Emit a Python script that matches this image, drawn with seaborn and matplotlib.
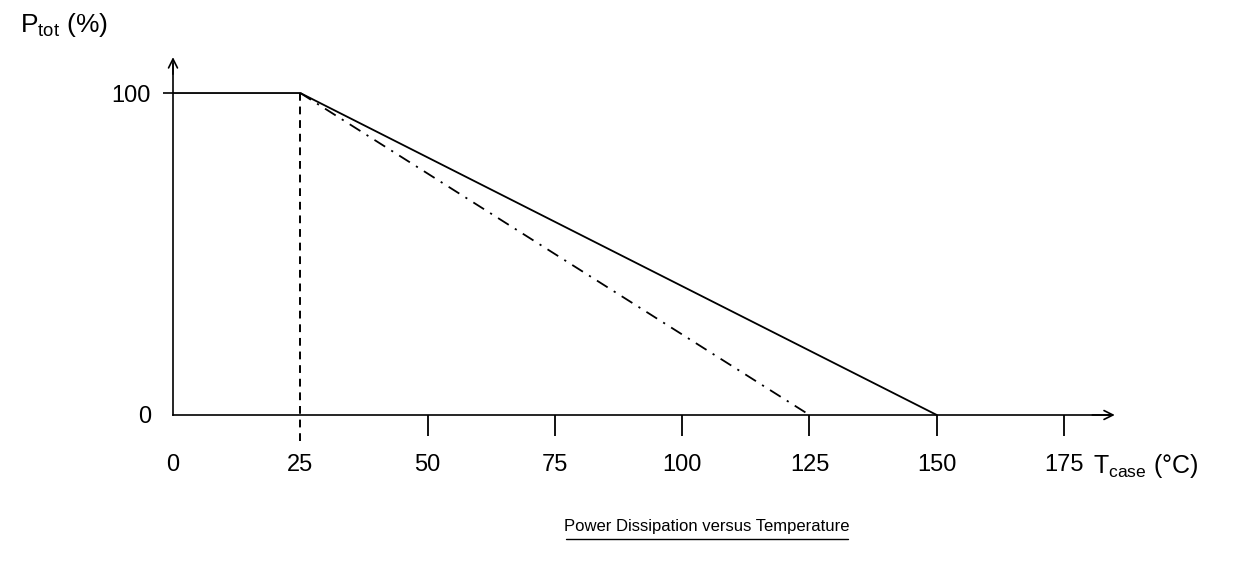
import numpy as np
import pandas as pd
import matplotlib
matplotlib.use("Agg")
import matplotlib.pyplot as plt
import seaborn as sns

# derating curves (T_case in degC, P_tot in %)
solid_t = [0, 25, 150]
solid_p = [100, 100, 0]
dashdot_t = [25, 125]
dashdot_p = [100, 0]
knee_t = 25

x_ticks = [0, 25, 50, 75, 100, 125, 150, 175]
y_ticks = [0, 100]

sns.set_style("white")
plt.rcParams['font.family'] = ['Liberation Sans', 'DejaVu Sans']
plt.rcParams['mathtext.fontset'] = 'custom'
plt.rcParams['mathtext.rm'] = 'Liberation Sans'
plt.rcParams['mathtext.it'] = 'Liberation Sans'
plt.rcParams['text.color'] = 'black'
plt.rcParams['xtick.color'] = 'black'
plt.rcParams['ytick.color'] = 'black'

fig = plt.figure(figsize=(12.55, 5.62), dpi=100)
ax = fig.add_axes([173 / 1255, 0.2043, 942 / 1255, 0.6932])

df_solid = pd.DataFrame({'t': solid_t, 'p': solid_p})
df_dd = pd.DataFrame({'t': dashdot_t, 'p': dashdot_p})
sns.lineplot(data=df_solid, x='t', y='p', color='black', lw=1.3, ax=ax,
             sort=False, estimator=None)
sns.lineplot(data=df_dd, x='t', y='p', color='black', lw=1.3, ax=ax,
             sort=False, estimator=None, linestyle=(0, (7, 4, 1.2, 4)))
ax.plot([knee_t, knee_t], [-8, 100], color='black', lw=1.4, ls=(0, (4, 3)))

ax.set_xlim(0, 185)
ax.set_ylim(-10, 111)

for s in ['top', 'right']:
    ax.spines[s].set_visible(False)
ax.spines['bottom'].set_position(('data', 0))
ax.spines['bottom'].set_bounds(0, 184)
ax.spines['left'].set_bounds(0, 109)
for s in ['bottom', 'left']:
    ax.spines[s].set_linewidth(1.2)
    ax.spines[s].set_color('black')

ax.annotate('', xy=(185.5, 0), xytext=(180, 0), annotation_clip=False,
            arrowprops=dict(arrowstyle='->', color='black', lw=1.2, mutation_scale=16))
ax.annotate('', xy=(0, 112), xytext=(0, 105), annotation_clip=False,
            arrowprops=dict(arrowstyle='->', color='black', lw=1.2, mutation_scale=16))

ax.set_xticks(x_ticks)
ax.set_xticklabels([str(t) for t in x_ticks])
ax.set_yticks(y_ticks)
ax.set_yticklabels([str(t) for t in y_ticks])
ax.tick_params(axis='x', bottom=True, length=15, width=1.3, direction='out',
               pad=13, labelsize=17)
ax.tick_params(axis='y', left=True, length=7, width=1.2, direction='out',
               pad=9, labelsize=17)
# no tick mark at the origin or at the 25 degC knee (dashed line does it)
for i, t in enumerate(ax.xaxis.get_major_ticks()):
    if x_ticks[i] in (0, 25):
        t.tick1line.set_visible(False)
ax.yaxis.get_major_ticks()[0].tick1line.set_visible(False)
ax.set_xlabel('')
ax.set_ylabel('')

fig.text(20 / 1255, 1 - 25 / 562, r'P$_{\mathrm{tot}}$ (%)', fontsize=19, va='center', ha='left')
fig.text(1093 / 1255, 1 - 466 / 562, r'T$_{\mathrm{case}}$ (°C)', fontsize=18, va='center', ha='left')
fig.text(707 / 1255, 1 - 527 / 562, 'Power Dissipation versus Temperature', fontsize=12,
         va='center', ha='center')
fig.add_artist(plt.Line2D([566 / 1255, 848 / 1255], [1 - 539 / 562, 1 - 539 / 562],
                          color='black', lw=1.0))

fig.savefig('out.png', dpi=100)
